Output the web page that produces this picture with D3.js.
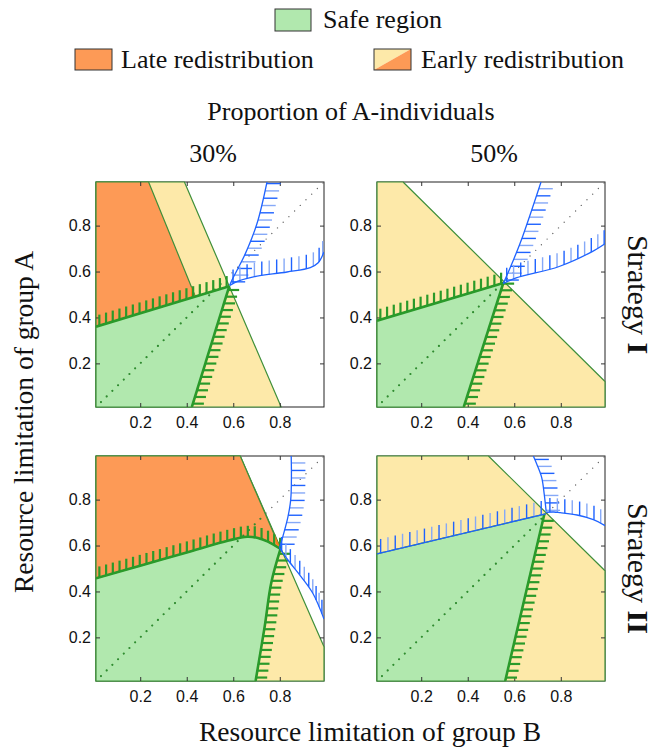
<!DOCTYPE html>
<html lang="en">
<head>
<meta charset="UTF-8" />
<title>Safe region and redistribution</title>
<script src="https://cdn.jsdelivr.net/npm/d3@7/dist/d3.min.js"></script>
<style>
  body { margin: 0; background: #fff; }
  svg { display: block; }
  .serif { font-family: 'Liberation Serif', 'Times New Roman', serif; fill: #111; }
</style>
</head>
<body>
<svg width="659" height="749"></svg>
<script>
  // axes
  const domain = [0.01, 0.99];
  const ticks = [0.2, 0.4, 0.6, 0.8];
  const colLabels = ['30%', '50%'];
  const rowLabels = ['I', 'II'];

  // 30% A-individuals, strategy I  (x = limitation of B, y = limitation of A)
  const early30I = [[0.01, 0.01], [0.01, 0.99], [0.39, 0.99], [0.806, 0.01]];
  const late30I = [[0.01, 0.36], [0.01, 0.99], [0.236, 0.99], [0.437, 0.491]];
  const both30I = [[0.419, 0.535], [0.419, 0.487], [0.437, 0.491]];
  const safeTop30I = [[0.01, 0.36], [0.583, 0.536]];
  const safeSide30I = [[0.422, 0.01], [0.583, 0.536]];
  const blueSteep30I = [[0.585, 0.54], [0.594, 0.562], [0.652, 0.678], [0.702, 0.809], [0.745, 0.99]];
  const blueFlat30I = [[0.585, 0.54], [0.62, 0.558], [0.687, 0.577], [0.831, 0.598], [0.931, 0.617], [0.965, 0.638], [0.99, 0.685]];

  // 50% A-individuals, strategy I
  const early50I = [[0.01, 0.01], [0.01, 0.99], [0.122, 0.99], [0.99, 0.121], [0.99, 0.01]];
  const safeTop50I = [[0.01, 0.386], [0.553, 0.55]];
  const safeSide50I = [[0.383, 0.01], [0.553, 0.55]];
  const blueSteep50I = [[0.553, 0.548], [0.6, 0.659], [0.636, 0.753], [0.715, 0.99]];
  const blueFlat50I = [[0.553, 0.548], [0.608, 0.572], [0.793, 0.622], [0.937, 0.688], [0.99, 0.721]];

  // 30% A-individuals, strategy II
  const early30II = [[0.01, 0.01], [0.01, 0.99], [0.63, 0.99], [0.99, 0.159], [0.99, 0.01]];
  const late30II = [[0.01, 0.457], [0.01, 0.99], [0.63, 0.99], [0.803, 0.585]];
  const both30II = [[0.775, 0.655], [0.785, 0.605], [0.802, 0.59]];
  const safeTop30II = [[0.01, 0.457], [0.2, 0.512], [0.4, 0.57], [0.58, 0.622], [0.66, 0.638],
    [0.706, 0.633], [0.749, 0.617], [0.803, 0.585]];
  const safeSide30II = [[0.696, 0.01], [0.735, 0.247], [0.763, 0.436], [0.803, 0.585]];
  const blueSteep30II = [[0.799, 0.59], [0.813, 0.639], [0.835, 0.725], [0.847, 0.8], [0.85, 0.9], [0.849, 0.99]];
  const blueFall30II = [[0.799, 0.59], [0.835, 0.537], [0.892, 0.464], [0.942, 0.392], [0.99, 0.28]];

  // 50% A-individuals, strategy II
  const early50II = [[0.01, 0.01], [0.01, 0.99], [0.489, 0.99], [0.99, 0.49], [0.99, 0.01]];
  const safeTop50II = [[0.01, 0.564], [0.735, 0.738]];
  const safeSide50II = [[0.561, 0.01], [0.729, 0.735]];
  const blueArcTop50II = [[0.682, 0.99], [0.697, 0.954], [0.718, 0.896], [0.729, 0.822], [0.737, 0.749]];
  const blueArcSide50II = [[0.737, 0.745], [0.77, 0.746], [0.797, 0.743], [0.87, 0.733], [0.94, 0.713], [0.99, 0.687]];

  const panels = [
    { col: 0, row: 0, early: early30I, late: late30I, both: both30I, top: safeTop30I, topBlue: false, side: safeSide30I,
      blue: [{ pts: blueSteep30I, dir: 'right' }, { pts: blueFlat30I, dir: 'up' }] },
    { col: 1, row: 0, early: early50I, top: safeTop50I, topBlue: false, side: safeSide50I,
      blue: [{ pts: blueSteep50I, dir: 'right' }, { pts: blueFlat50I, dir: 'up' }] },
    { col: 0, row: 1, early: early30II, late: late30II, both: both30II, top: safeTop30II, topBlue: false, side: safeSide30II,
      blue: [{ pts: blueSteep30II, dir: 'right' }, { pts: blueFall30II, dir: 'up' }] },
    { col: 1, row: 1, early: early50II, top: safeTop50II, topBlue: true, side: safeSide50II,
      blue: [{ pts: blueArcTop50II, dir: 'right' }, { pts: blueArcSide50II, dir: 'up' }] },
  ];

  // colours
  const cSafe = '#b1e8ae', cLate = '#fd9a56', cEarly = '#fde9a9', cBoth = '#ff7b1c';
  const cEdge = '#3f8f3a', cGreen = '#2a9a2a', cBlue = '#1f63ff', cBlueLight = '#86a9f7';

  const svg = d3.select('svg');
  const defs = svg.append('defs');
  const colX = [96, 377], rowY = [182, 456];
  const pw = 228, ph = 225;

  const x = d3.scaleLinear().domain(domain).range([0, pw]);
  const y = d3.scaleLinear().domain(domain).range([ph, 0]);
  const poly = d3.line().x((d) => x(d[0])).y((d) => y(d[1]));
  const smooth = d3.line().x((d) => x(d[0])).y((d) => y(d[1])).curve(d3.curveCatmullRom.alpha(0.5));

  // points along a smooth curve, in pixels
  function sample(g, pts) {
    const p = g.append('path').attr('d', smooth(pts));
    const node = p.node();
    const L = node.getTotalLength();
    const out = d3.range(0, L, 2).concat([L]).map((s) => {
      const q = node.getPointAtLength(s);
      return [q.x, q.y];
    });
    p.remove();
    return out;
  }

  // curve with short marks on one side
  function hatched(g, pts, o) {
    const path = g.append('path')
      .attr('d', smooth(pts))
      .attr('fill', 'none')
      .attr('stroke', o.color)
      .attr('stroke-width', o.width);
    const node = path.node();
    const L = node.getTotalLength();
    const marks = d3.range(o.step / 2, L, o.step).map((s) => node.getPointAtLength(s));
    const dx = o.dir === 'right' ? 1 : 0;
    const dy = o.dir === 'up' ? -1 : 0;
    g.insert('g', () => path.node())
      .selectAll('line')
      .data(marks)
      .join('line')
      .attr('x1', (p) => p.x)
      .attr('y1', (p) => p.y)
      .attr('x2', (p) => p.x + dx * o.len)
      .attr('y2', (p) => p.y + dy * o.len)
      .attr('stroke', (p, i) => (i % 2 ? o.light : o.color))
      .attr('stroke-width', o.hw);
  }

  const greenStyle = { color: cGreen, light: cGreen, width: 2.6, hw: 2.2, len: 11, step: 7 };
  const blueStyle = { color: cBlue, light: cBlueLight, width: 1.3, hw: 1.4, len: 14, step: 7.5 };

  panels.forEach((P, i) => {
    const g = svg.append('g').attr('transform', `translate(${colX[P.col]},${rowY[P.row]})`);

    defs.append('clipPath').attr('id', `box${i}`)
      .append('rect').attr('width', pw).attr('height', ph);
    defs.append('clipPath').attr('id', `area${i}`)
      .append('path').attr('d', poly(P.early) + 'Z');

    g.append('rect').attr('width', pw).attr('height', ph)
      .attr('fill', '#fff').attr('stroke', '#222').attr('stroke-width', 1);

    const regions = g.append('g').attr('stroke', cEdge).attr('stroke-width', 1.2).attr('stroke-linejoin', 'round');
    regions.append('path').attr('d', poly(P.early) + 'Z').attr('fill', cEarly);
    if (P.late) regions.append('path').attr('d', poly(P.late) + 'Z').attr('fill', cLate);
    if (P.both) regions.append('path').attr('d', poly(P.both) + 'Z').attr('fill', cBoth).attr('stroke', 'none');

    const safePts = [[x(0.01), y(0.01)]].concat(sample(g, P.top), sample(g, P.side).reverse());
    regions.append('path').attr('d', d3.line()(safePts) + 'Z').attr('fill', cSafe);

    // diagonal y = x
    const diag = [[0.01, 0.01], [0.99, 0.99]];
    g.append('path').attr('d', poly(diag))
      .attr('stroke', '#666').attr('stroke-width', 1.4).attr('stroke-linecap', 'round')
      .attr('stroke-dasharray', '0 8').attr('stroke-dashoffset', -7);
    g.append('path').attr('d', poly(diag)).attr('clip-path', `url(#area${i})`)
      .attr('stroke', '#2f8f2f').attr('stroke-width', 2.2).attr('stroke-linecap', 'round')
      .attr('stroke-dasharray', '0 8').attr('stroke-dashoffset', -7);

    // ticks inside the box on all sides
    const axes = g.append('g').attr('color', '#333');
    axes.append('g').attr('transform', `translate(0,${ph})`)
      .call(d3.axisBottom(x).tickValues(ticks).tickSizeInner(-4).tickSizeOuter(0).tickPadding(9.5).tickFormat(d3.format('.1f')));
    axes.append('g')
      .call(d3.axisLeft(y).tickValues(ticks).tickSizeInner(-4).tickSizeOuter(0).tickPadding(5).tickFormat(d3.format('.1f')));
    axes.append('g')
      .call(d3.axisTop(x).tickValues(ticks).tickSizeInner(-4).tickSizeOuter(0).tickFormat(''));
    axes.append('g').attr('transform', `translate(${pw},0)`)
      .call(d3.axisRight(y).tickValues(ticks).tickSizeInner(-4).tickSizeOuter(0).tickFormat(''));
    axes.selectAll('.domain').remove();
    axes.selectAll('text')
      .attr('font-family', "'Liberation Sans', Arial, sans-serif")
      .attr('font-size', 16)
      .attr('fill', '#111');

    // limit curves
    const lines = g.append('g').attr('clip-path', `url(#box${i})`).attr('stroke-linecap', 'butt');
    hatched(lines, P.side, { ...greenStyle, dir: 'right' });
    hatched(lines, P.top, { ...(P.topBlue ? blueStyle : greenStyle), dir: 'up' });
    P.blue.forEach((b) => hatched(lines, b.pts, { ...blueStyle, dir: b.dir }));
  });

  // column and row titles
  svg.append('text').attr('class', 'serif').attr('x', 351).attr('y', 120)
    .attr('text-anchor', 'middle').attr('font-size', 26).text('Proportion of A-individuals');
  colLabels.forEach((t, i) => {
    svg.append('text').attr('class', 'serif').attr('x', colX[i] + pw / 2 + 3).attr('y', 162)
      .attr('text-anchor', 'middle').attr('font-size', 26).text(t);
  });
  rowLabels.forEach((r, i) => {
    const t = svg.append('text').attr('class', 'serif')
      .attr('transform', `translate(628,${rowY[i] + ph / 2}) rotate(90)`)
      .attr('text-anchor', 'middle').attr('font-size', 30);
    t.append('tspan').text('Strategy ');
    t.append('tspan').attr('font-weight', 'bold').text(r);
  });
  svg.append('text').attr('class', 'serif').attr('x', 370).attr('y', 741)
    .attr('text-anchor', 'middle').attr('font-size', 27.5).text('Resource limitation of group B');
  svg.append('text').attr('class', 'serif')
    .attr('transform', 'translate(33,422) rotate(-90)')
    .attr('text-anchor', 'middle').attr('font-size', 27.5).text('Resource limitation of group A');

  // legend
  const leg = svg.append('g');
  leg.append('rect').attr('x', 275).attr('y', 9).attr('width', 36).attr('height', 22)
    .attr('fill', cSafe).attr('stroke', '#333');
  leg.append('text').attr('class', 'serif').attr('x', 323).attr('y', 28).attr('font-size', 26).text('Safe region');
  leg.append('rect').attr('x', 75).attr('y', 49).attr('width', 37).attr('height', 21)
    .attr('fill', cLate).attr('stroke', '#333');
  leg.append('text').attr('class', 'serif').attr('x', 121).attr('y', 68).attr('font-size', 26).text('Late redistribution');
  leg.append('path').attr('d', 'M374,49H411L374,70Z').attr('fill', cEarly);
  leg.append('path').attr('d', 'M411,49V70H374Z').attr('fill', cLate);
  leg.append('rect').attr('x', 374).attr('y', 49).attr('width', 37).attr('height', 21)
    .attr('fill', 'none').attr('stroke', '#333');
  leg.append('text').attr('class', 'serif').attr('x', 421).attr('y', 68).attr('font-size', 26).text('Early redistribution');
</script>
</body>
</html>
